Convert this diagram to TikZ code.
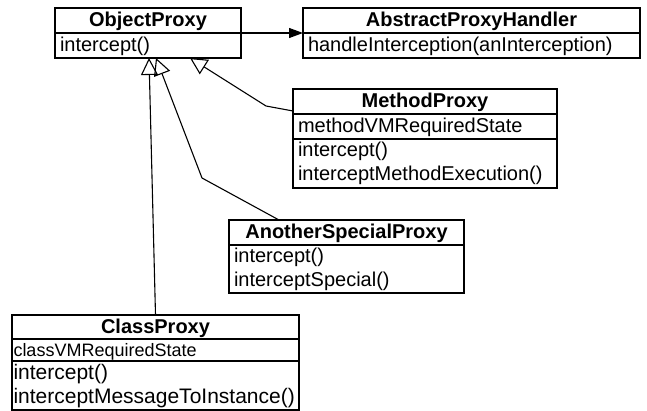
\documentclass[tikz,border=0pt]{standalone}
\usepackage{fontspec}
\setmainfont{Liberation Sans}
\usetikzlibrary{positioning,arrows.meta}
\tikzset{
  umlbox/.style={draw, line width=1.1pt, outer sep=0pt, inner xsep=5pt, inner ysep=0pt,
    text width=#1, align=left, font=\fontsize{20}{24}\selectfont},
  umlhead/.style={umlbox=#1, align=center, font=\fontsize{20}{24}\selectfont\bfseries,
    minimum height=25pt, text height=18pt, text depth=5pt, anchor=north west},
  umlrow/.style={umlbox=#1, minimum height=25pt, text height=18pt, text depth=5pt},
  umlrows/.style={umlbox=#1, minimum height=49pt, text height=17pt, text depth=30pt},
  inherits/.style={line width=1.1pt, -{Triangle[open,length=17pt,width=17pt]}},
  uses/.style={line width=1.1pt, -{Triangle[length=14pt,width=10pt]}}
}

\begin{document}
\begin{tikzpicture}[x=1pt, y=-1pt]
\useasboundingbox (0,0) rectangle (647,411);

% ObjectProxy
\node[umlhead=176pt] (objproxy) at (55,8) {ObjectProxy};
\node[umlrow=176pt, below=0pt of objproxy] (objops) {intercept()};

% AbstractProxyHandler
\node[umlhead=327pt] (handler) at (303,8) {AbstractProxyHandler};
\node[umlrow=327pt, below=0pt of handler] (handlerops) {handleInterception(anInterception)};

% MethodProxy
\node[umlhead=254pt] (mthproxy) at (293,89) {MethodProxy};
\node[umlrow=254pt, below=0pt of mthproxy] (mthattr) {methodVMRequiredState};
\node[umlrows=254pt, below=0pt of mthattr] (mthops) {intercept()\\interceptMethodExecution()};

% AnotherSpecialProxy
\node[umlhead=225pt] (asproxy) at (229,220) {AnotherSpecialProxy};
\node[umlrows=225pt, minimum height=48pt, below=0pt of asproxy] (asops) {intercept()\\interceptSpecial()};

% ClassProxy
\node[umlhead=277pt, minimum height=24pt] (clsproxy) at (12,315) {ClassProxy};
\node[umlrow=284pt, inner xsep=1.5pt, minimum height=22pt, text height=16pt, text depth=4pt,
  font=\fontsize{18}{22}\selectfont, below=0pt of clsproxy] (clsattr) {classVMRequiredState};
\node[umlrows=284pt, inner xsep=1.5pt, font=\fontsize{21}{24}\selectfont,
  below=0pt of clsattr] (clsops) {intercept()\\interceptMessageToInstance()};

% bends
\coordinate (mthbend) at (266,106);
\coordinate (aspbend) at (202,178);

% relations
\draw[uses] (objproxy.south east) -- (handler.south west);
\draw[inherits] ([yshift=-22pt]mthproxy.north west) -- (mthbend) -- ([xshift=42pt]objops.south);
\draw[inherits] ([xshift=50pt]asproxy.north west) -- (aspbend) -- ([xshift=8pt]objops.south);
\draw[inherits] (clsproxy.north) -- ([xshift=1pt]objops.south);

\end{tikzpicture}
\end{document}
